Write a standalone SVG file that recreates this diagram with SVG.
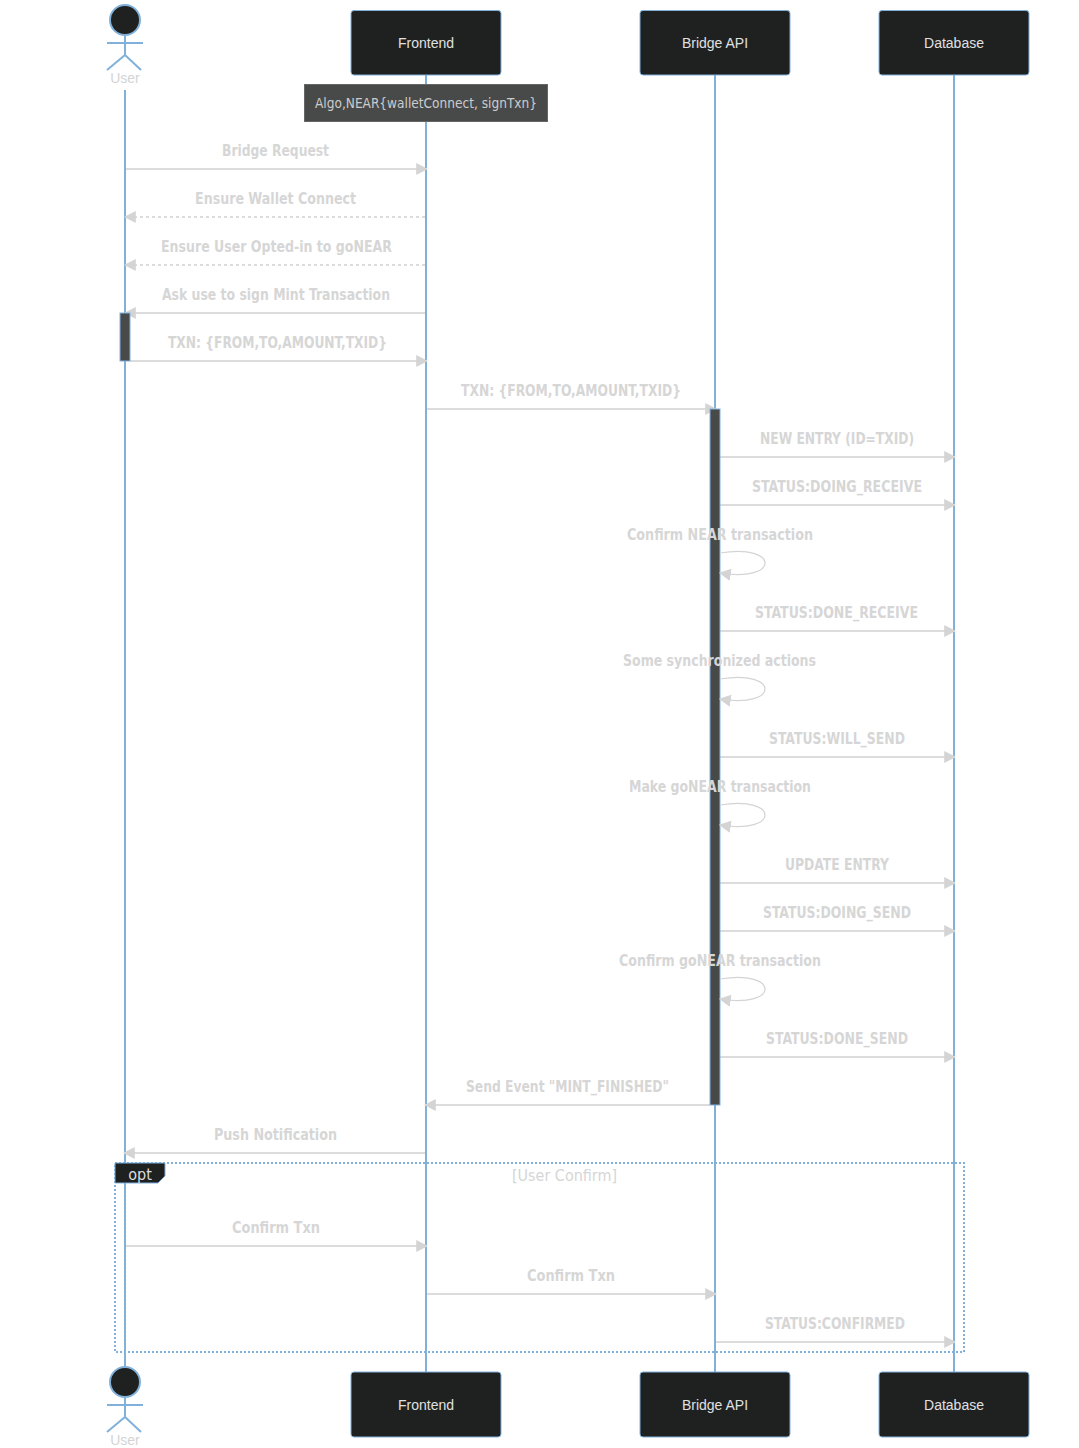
<svg xmlns="http://www.w3.org/2000/svg" width="1079" height="1448" viewBox="0 0 1079 1448">
<style>
.life{stroke:#81B1DB;stroke-width:2;fill:none}
.box{fill:#1f2020;stroke:#81B1DB;stroke-width:1}
.atxt{font-family:"Liberation Sans",Arial,sans-serif;font-size:14px;fill:#e0e0e0;text-anchor:middle;dominant-baseline:central}
.ulbl{font-family:"Liberation Sans",Arial,sans-serif;font-size:14px;fill:#d4d4d4;text-anchor:middle;dominant-baseline:central}
.act{stroke:#81B1DB;stroke-width:2;fill:none}
.head{fill:#1f2020;stroke:#81B1DB;stroke-width:2}
.msg{stroke:#dcdcdc;stroke-width:2;fill:none}
.dash{stroke-dasharray:3 3}
.self{stroke:#d4d4d4;stroke-width:1.2;fill:none}
.t{font-family:"DejaVu Sans",Verdana,sans-serif;font-stretch:condensed;font-size:16px;font-weight:600;fill:#d6d6d6;text-anchor:middle}
.bar{fill:#484a4a;stroke:#81B1DB;stroke-width:1}
.note{fill:#484a4a;stroke:#666;stroke-width:1}
.ntxt{font-family:"DejaVu Sans",Verdana,sans-serif;font-stretch:condensed;font-size:14px;fill:#ccc;text-anchor:middle;dominant-baseline:central}
.loop{fill:none;stroke:#81B1DB;stroke-width:2;stroke-dasharray:2 2}
.lbl{fill:#1f2020;stroke:#81B1DB;stroke-width:1}
</style>
<defs>
<marker id="arr" markerUnits="userSpaceOnUse" markerWidth="12" markerHeight="12" viewBox="0 0 10 10" refX="9" refY="5" orient="auto"><path d="M0 0L10 5L0 10z" fill="#d4d4d4"/></marker>
</defs>

<g id="lifelines">
<path class="life" d="M125 90V1367"/>
<path class="life" d="M426 75V1372"/>
<path class="life" d="M715 75V1372"/>
<path class="life" d="M954 75V1372"/>
</g>

<g id="opt-frame">
<rect class="loop" x="115" y="1163" width="849" height="189"/>
<path class="lbl" d="M115 1163H165V1176L158 1183H115z"/>
<text x="140" y="1174" font-family="'DejaVu Sans',Verdana,sans-serif" font-stretch="condensed" font-size="16" fill="#ddd" text-anchor="middle" dominant-baseline="central">opt</text>
<text x="564.5" y="1175" font-family="'DejaVu Sans',Verdana,sans-serif" font-stretch="condensed" font-size="16" fill="#d6d6d6" text-anchor="middle" dominant-baseline="central" textLength="105" lengthAdjust="spacingAndGlyphs">[User Confirm]</text>
</g>

<g id="connectors">
<path class="msg" d="M126 169H427" marker-end="url(#arr)"/>
<path class="msg dash" d="M425 217H125" marker-end="url(#arr)"/>
<path class="msg dash" d="M425 265H125" marker-end="url(#arr)"/>
<path class="msg" d="M425 313H125" marker-end="url(#arr)"/>
<path class="msg" d="M130 361H427" marker-end="url(#arr)"/>
<path class="msg" d="M427 409H716" marker-end="url(#arr)"/>
<path class="msg" d="M720 457H955" marker-end="url(#arr)"/>
<path class="msg" d="M720 505H955" marker-end="url(#arr)"/>
<path class="msg" d="M720 631H955" marker-end="url(#arr)"/>
<path class="msg" d="M720 757H955" marker-end="url(#arr)"/>
<path class="msg" d="M720 883H955" marker-end="url(#arr)"/>
<path class="msg" d="M720 931H955" marker-end="url(#arr)"/>
<path class="msg" d="M720 1057H955" marker-end="url(#arr)"/>
<path class="msg" d="M710 1105H425" marker-end="url(#arr)"/>
<path class="msg" d="M425 1153H124" marker-end="url(#arr)"/>
<path class="msg" d="M126 1246H427" marker-end="url(#arr)"/>
<path class="msg" d="M427 1294H716" marker-end="url(#arr)"/>
<path class="msg" d="M716 1342H955" marker-end="url(#arr)"/>
</g>

<g id="activations">
<rect class="bar" x="120" y="313" width="10" height="48"/>
<rect class="bar" x="710" y="409" width="10" height="696"/>
</g>

<g id="self-connectors">
<path class="self" d="M720 553C780 543 780 583 720 573" marker-end="url(#arr)"/>
<path class="self" d="M720 679C780 669 780 709 720 699" marker-end="url(#arr)"/>
<path class="self" d="M720 805C780 795 780 835 720 825" marker-end="url(#arr)"/>
<path class="self" d="M720 979C780 969 780 1009 720 999" marker-end="url(#arr)"/>
</g>

<g id="labels">
<text class="t" x="275.500" y="156" textLength="107" lengthAdjust="spacingAndGlyphs">Bridge Request</text>
<text class="t" x="275.500" y="204" textLength="161" lengthAdjust="spacingAndGlyphs">Ensure Wallet Connect</text>
<text class="t" x="276.500" y="252" textLength="231" lengthAdjust="spacingAndGlyphs">Ensure User Opted-in to goNEAR</text>
<text class="t" x="276" y="300" textLength="228" lengthAdjust="spacingAndGlyphs">Ask use to sign Mint Transaction</text>
<text class="t" x="277.500" y="348" textLength="219" lengthAdjust="spacingAndGlyphs">TXN: {FROM,TO,AMOUNT,TXID}</text>
<text class="t" x="571" y="396" textLength="220" lengthAdjust="spacingAndGlyphs">TXN: {FROM,TO,AMOUNT,TXID}</text>
<text class="t" x="837" y="444" textLength="154" lengthAdjust="spacingAndGlyphs">NEW ENTRY (ID=TXID)</text>
<text class="t" x="837" y="492" textLength="170" lengthAdjust="spacingAndGlyphs">STATUS:DOING_RECEIVE</text>
<text class="t" x="720" y="540" textLength="186" lengthAdjust="spacingAndGlyphs">Confirm NEAR transaction</text>
<text class="t" x="836.500" y="618" textLength="163" lengthAdjust="spacingAndGlyphs">STATUS:DONE_RECEIVE</text>
<text class="t" x="719.500" y="666" textLength="193" lengthAdjust="spacingAndGlyphs">Some synchronized actions</text>
<text class="t" x="837" y="744" textLength="136" lengthAdjust="spacingAndGlyphs">STATUS:WILL_SEND</text>
<text class="t" x="720" y="792" textLength="182" lengthAdjust="spacingAndGlyphs">Make goNEAR transaction</text>
<text class="t" x="837" y="870" textLength="104" lengthAdjust="spacingAndGlyphs">UPDATE ENTRY</text>
<text class="t" x="837" y="918" textLength="148" lengthAdjust="spacingAndGlyphs">STATUS:DOING_SEND</text>
<text class="t" x="720" y="966" textLength="202" lengthAdjust="spacingAndGlyphs">Confirm goNEAR transaction</text>
<text class="t" x="837" y="1044" textLength="142" lengthAdjust="spacingAndGlyphs">STATUS:DONE_SEND</text>
<text class="t" x="567.500" y="1092" textLength="203" lengthAdjust="spacingAndGlyphs">Send Event "MINT_FINISHED"</text>
<text class="t" x="275.500" y="1140" textLength="123" lengthAdjust="spacingAndGlyphs">Push Notification</text>
<text class="t" x="276" y="1233" textLength="88" lengthAdjust="spacingAndGlyphs">Confirm Txn</text>
<text class="t" x="571" y="1281" textLength="88" lengthAdjust="spacingAndGlyphs">Confirm Txn</text>
<text class="t" x="835" y="1329" textLength="140" lengthAdjust="spacingAndGlyphs">STATUS:CONFIRMED</text>
</g>

<g id="note">
<rect class="note" x="304.500" y="84.500" width="243" height="37"/>
<text class="ntxt" x="426" y="103" textLength="222" lengthAdjust="spacingAndGlyphs">Algo,NEAR{walletConnect, signTxn}</text>
</g>

<g id="user-top">
<path class="act" d="M125 35V55M107 43H143M125 55L107 70M125 55L141 70"/>
<circle class="head" cx="125" cy="20" r="15"/>
<text class="ulbl" x="125" y="78">User</text>
</g>
<g id="frontend-top"><rect class="box" x="351" y="10.500" width="150" height="64.500" rx="3"/><text class="atxt" x="426" y="43">Frontend</text></g>
<g id="bridge-top"><rect class="box" x="640" y="10.500" width="150" height="64.500" rx="3"/><text class="atxt" x="715" y="43">Bridge API</text></g>
<g id="database-top"><rect class="box" x="879" y="10.500" width="150" height="64.500" rx="3"/><text class="atxt" x="954" y="43">Database</text></g>

<g id="user-bottom">
<path class="act" d="M125 1397V1417M107 1405H143M125 1417L107 1432M125 1417L141 1432"/>
<circle class="head" cx="125" cy="1382" r="15"/>
<text class="ulbl" x="125" y="1440">User</text>
</g>
<g id="frontend-bottom"><rect class="box" x="351" y="1372" width="150" height="65" rx="3"/><text class="atxt" x="426" y="1405">Frontend</text></g>
<g id="bridge-bottom"><rect class="box" x="640" y="1372" width="150" height="65" rx="3"/><text class="atxt" x="715" y="1405">Bridge API</text></g>
<g id="database-bottom"><rect class="box" x="879" y="1372" width="150" height="65" rx="3"/><text class="atxt" x="954" y="1405">Database</text></g>
</svg>
